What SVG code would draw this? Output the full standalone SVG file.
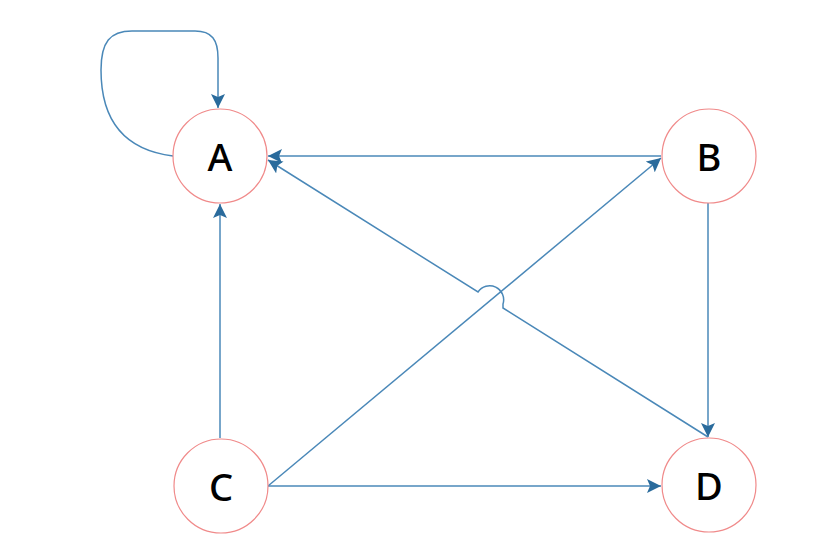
<svg xmlns="http://www.w3.org/2000/svg" width="826" height="547" viewBox="0 0 826 547">
<style>
.node circle{fill:#fff;stroke:#f08a8a;stroke-width:1.2}
.node text{font-family:"Noto Sans","Open Sans",sans-serif;font-size:38px;font-weight:500;fill:#000;text-anchor:middle;dominant-baseline:central}
.edge{fill:none;stroke:#4a88b8;stroke-width:1.5}
</style>
<defs>
<marker id="arr" viewBox="0 0 14 14" refX="14" refY="7" markerWidth="14" markerHeight="14" markerUnits="userSpaceOnUse" orient="auto">
<path d="M0,0 L14,7 L0,14 L3,7 Z" fill="#2a6b9c"/>
</marker>
</defs>
<rect width="826" height="547" fill="#fff"/>
<g id="connectors">
<path class="edge" d="M173,156 C125,150 101,122 101,70 C101,42 110,31 132,31 L195,31 C212,31 218,40 218,58 L218,108" marker-end="url(#arr)"/>
<path class="edge" d="M661,156 L268,156" marker-end="url(#arr)"/>
<path class="edge" d="M220,438 L220,204" marker-end="url(#arr)"/>
<path class="edge" d="M708,203 L708,437" marker-end="url(#arr)"/>
<path class="edge" d="M268,486 L661,486" marker-end="url(#arr)"/>
<path class="edge" d="M268,486 L661,158" marker-end="url(#arr)"/>
<path class="edge" d="M708,437 L503,308 L503,304 A14,14 0 0 0 478,292 L268,160" marker-end="url(#arr)"/>
</g>
<g id="A" class="node"><circle cx="220" cy="156" r="47"/><text x="220" y="156">A</text></g>
<g id="B" class="node"><circle cx="709" cy="156" r="47"/><text x="709" y="156">B</text></g>
<g id="C" class="node"><circle cx="221" cy="486" r="47"/><text x="221" y="486">C</text></g>
<g id="D" class="node"><circle cx="709" cy="485" r="47"/><text x="709" y="485">D</text></g>
</svg>
